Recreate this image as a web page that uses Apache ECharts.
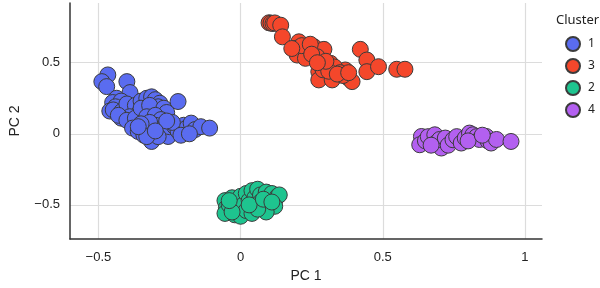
<!DOCTYPE html>
<html>
	<head>
		<meta charset="utf-8">
		<title>PCA clusters</title>
		<script src="https://cdn.jsdelivr.net/npm/echarts@6/dist/echarts.min.js"></script>
	</head>
	<body style="margin:0">
		<div id="box" style="width: 600px;height: 288px;"></div>
		<script>
			var clusterNames = ['1', '3', '2', '4']
			var clusterColors = ['#5a6cf0', '#f4472b', '#1ec48f', '#b360f0']
			var xTicks = [-0.5, 0, 0.5, 1]
			var yTicks = [-0.5, 0, 0.5]

			// cluster 1 (blue)
			var c1 = [
				[-0.467, 0.414], [-0.488, 0.367], [-0.471, 0.332], [-0.40, 0.367], [-0.389, 0.29],
				[-0.436, 0.25], [-0.45, 0.22], [-0.42, 0.23], [-0.44, 0.19], [-0.46, 0.16],
				[-0.448, 0.168], [-0.418, 0.157], [-0.389, 0.18], [-0.40, 0.21], [-0.37, 0.2],
				[-0.35, 0.23], [-0.33, 0.25], [-0.313, 0.26], [-0.30, 0.24], [-0.284, 0.215],
				[-0.29, 0.19], [-0.31, 0.17], [-0.337, 0.157], [-0.36, 0.14], [-0.39, 0.12],
				[-0.42, 0.11], [-0.43, 0.13], [-0.40, 0.095], [-0.37, 0.11], [-0.35, 0.18],
				[-0.32, 0.2], [-0.27, 0.18], [-0.26, 0.15], [-0.22, 0.227], [-0.33, 0.12],
				[-0.30, 0.13], [-0.28, 0.1],
				[-0.38, 0.04], [-0.36, 0.016], [-0.34, -0.01], [-0.331, 0.028], [-0.313, -0.054],
				[-0.30, 0.06], [-0.284, 0.028], [-0.27, 0.0], [-0.255, -0.019], [-0.25, 0.05],
				[-0.232, 0.051], [-0.22, 0.02], [-0.2, 0.06], [-0.19, 0.04], [-0.174, 0.075],
				[-0.16, 0.03], [-0.14, 0.05], [-0.109, 0.04], [-0.32, 0.08], [-0.35, 0.07],
				[-0.29, -0.02], [-0.24, 0.08], [-0.21, -0.01], [-0.18, 0.0], [-0.33, -0.02],
				[-0.36, 0.05], [-0.26, 0.09], [-0.3, 0.02]
			]
			// cluster 3 (red)
			var c3 = [
				[0.100, 0.781], [0.107, 0.778], [0.114, 0.776], [0.12, 0.78], [0.141, 0.764],
				[0.147, 0.682], [0.205, 0.647], [0.193, 0.601], [0.234, 0.589], [0.258, 0.612],
				[0.293, 0.594], [0.199, 0.554], [0.228, 0.531], [0.269, 0.542], [0.215, 0.62],
				[0.245, 0.63], [0.18, 0.6], [0.25, 0.56], [0.293, 0.484], [0.316, 0.496],
				[0.339, 0.449], [0.275, 0.437], [0.304, 0.402], [0.368, 0.449], [0.380, 0.391],
				[0.392, 0.367], [0.275, 0.379], [0.322, 0.379], [0.33, 0.47], [0.35, 0.43],
				[0.36, 0.41], [0.29, 0.45], [0.31, 0.44], [0.34, 0.42], [0.38, 0.43],
				[0.421, 0.594], [0.444, 0.519], [0.444, 0.437], [0.485, 0.472], [0.549, 0.454],
				[0.578, 0.454], [0.3, 0.51], [0.27, 0.5]
			]
			// cluster 2 (green)
			var c2 = [
				[-0.055, -0.47], [-0.05, -0.52], [-0.055, -0.56], [-0.04, -0.5], [-0.03, -0.45],
				[-0.02, -0.48], [-0.01, -0.53], [-0.02, -0.57], [0.0, -0.44], [0.01, -0.5],
				[0.0, -0.58], [0.02, -0.42], [0.03, -0.47], [0.02, -0.54], [0.04, -0.4],
				[0.05, -0.45], [0.05, -0.5], [0.04, -0.56], [0.06, -0.39], [0.07, -0.43],
				[0.07, -0.48], [0.08, -0.53], [0.09, -0.41], [0.1, -0.45], [0.1, -0.5],
				[0.11, -0.42], [0.12, -0.47], [0.13, -0.44], [0.136, -0.43], [0.12, -0.51],
				[0.09, -0.55], [-0.03, -0.55], [0.06, -0.53], [0.03, -0.5], [0.08, -0.46],
				[-0.04, -0.47], [0.11, -0.48]
			]
			// cluster 4 (purple)
			var c4 = [
				[0.636, -0.019], [0.63, -0.077], [0.65, -0.05], [0.66, -0.02], [0.683, -0.007],
				[0.69, -0.06], [0.706, -0.1], [0.7, -0.04], [0.72, -0.03], [0.73, -0.08],
				[0.747, -0.042], [0.76, -0.02], [0.776, -0.065], [0.79, -0.03], [0.805, 0.005],
				[0.817, -0.007], [0.83, -0.02], [0.84, -0.04], [0.864, -0.019], [0.87, -0.05],
				[0.881, -0.065], [0.9, -0.04], [0.951, -0.054], [0.67, -0.08], [0.8, -0.05],
				[0.85, -0.01]
			]
			var clusterData = [c1, c3, c2, c4]

			var axisFont = 'Liberation Sans'
			var series = clusterNames.map(function (name, i) {
				return {
					name: name,
					type: 'scatter',
					symbolSize: 16,
					data: clusterData[i],
					itemStyle: {
						color: clusterColors[i],
						borderColor: '#3b3b3b',
						borderWidth: 1,
						opacity: 1
					}
				}
			})

			function minusFmt(v) {
				return String(v).replace('-', '\u2212')
			}

			var mCharts = echarts.init(document.querySelector('#box'))
			var option = {
				animation: false,
				title: {
					text: 'Cluster',
					left: 551,
					top: 9,
					textStyle: { fontFamily: 'Noto Sans', fontSize: 13, fontWeight: 'normal', color: '#222' }
				},
				legend: {
					data: clusterNames,
					orient: 'vertical',
					left: 560,
					top: 31,
					itemWidth: 14,
					itemHeight: 14,
					itemGap: 6,
					icon: 'circle',
					textStyle: { fontFamily: 'Noto Sans', fontSize: 12, color: '#222', padding: [0, 0, 0, 3] }
				},
				grid: { left: 67, right: 58, top: 3, bottom: 49 },
				xAxis: {
					type: 'value',
					min: -0.6,
					max: 1.06,
					name: 'PC 1',
					nameLocation: 'middle',
					nameGap: 30,
					nameTextStyle: { fontFamily: axisFont, fontSize: 14, color: '#222' },
					axisLine: { onZero: false, lineStyle: { color: '#333', width: 1.5 } },
					axisTick: { show: false, customValues: xTicks },
					axisLabel: { customValues: xTicks, fontFamily: axisFont, fontSize: 13, color: '#222', margin: 12, formatter: minusFmt },
					splitLine: { show: true, lineStyle: { color: '#dcdcdc', width: 1.2 } }
				},
				yAxis: {
					type: 'value',
					min: -0.74,
					max: 0.92,
					name: 'PC 2',
					nameLocation: 'middle',
					nameGap: 48,
					nameTextStyle: { fontFamily: axisFont, fontSize: 14, color: '#222' },
					axisLine: { show: true, onZero: false, lineStyle: { color: '#333', width: 1.5 } },
					axisTick: { show: false, customValues: yTicks },
					axisLabel: { customValues: yTicks, fontFamily: axisFont, fontSize: 13, color: '#222', margin: 10, formatter: minusFmt },
					splitLine: { show: true, lineStyle: { color: '#dcdcdc', width: 1.2 } }
				},
				series: series
			}
			mCharts.setOption(option)
		</script>
	</body>
</html>
